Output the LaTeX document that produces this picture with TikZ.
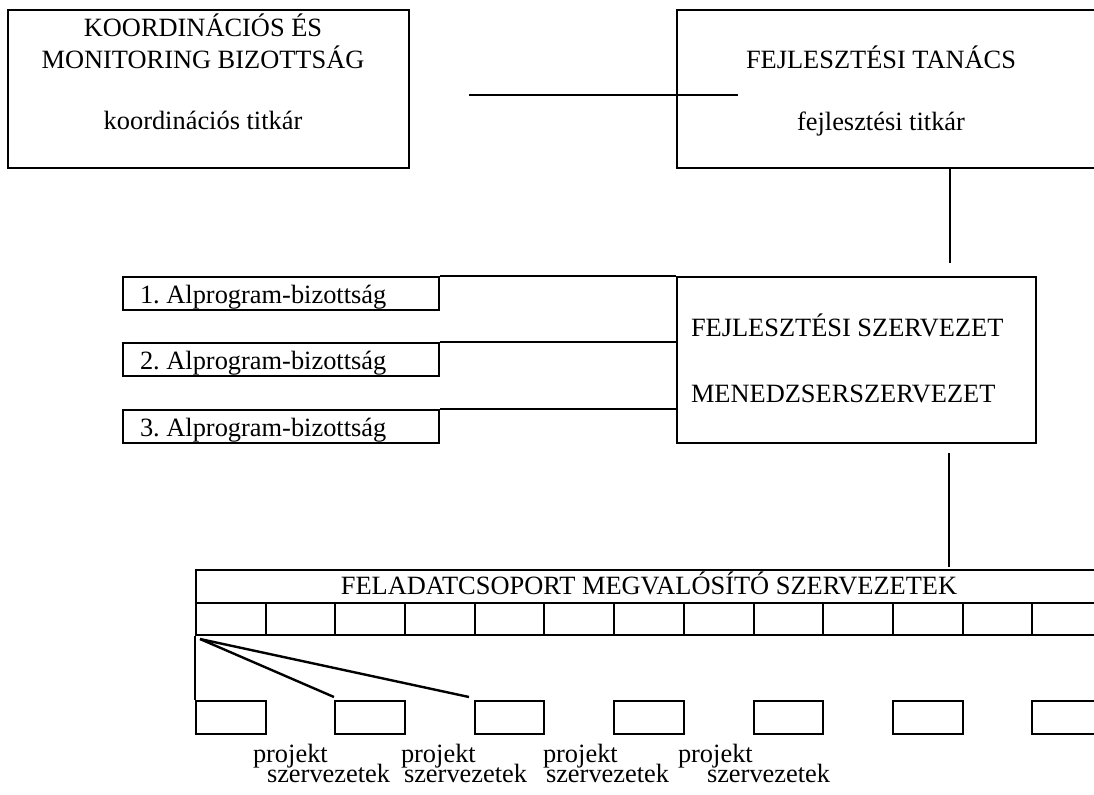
\documentclass[tikz,border=0pt]{standalone}
\usepackage{fontspec}
\setmainfont{Liberation Serif}
\newfontfamily\tnr{Liberation Serif}
\frenchspacing
\begin{document}
\begin{tikzpicture}[x=0.5pt,y=-0.5pt,line width=1pt,
  box/.style={draw,inner sep=0pt,rectangle},
  txt/.style={inner sep=0pt,font=\tnr\fontsize{13.2}{15}\selectfont},
  cell/.style={draw,inner sep=0pt,minimum width=34.845pt}]
\useasboundingbox (0,0) rectangle (1094,794);
\clip (0,0) rectangle (1094,794);
% top boxes
\node[box,minimum width=200.5pt,minimum height=79pt] (kmb) at (208.5,89) {};
\node[txt,anchor=base] (kmb1) at (203,36) {KOORDINÁCIÓS ÉS};
\node[txt,anchor=base] (kmb2) at (203,68) {MONITORING BIZOTTSÁG};
\node[txt,anchor=base] (kmb3) at (203,129) {koordinációs titkár};
\node[box,minimum width=216.5pt,minimum height=79pt] (ft) at (893.5,89) {};
\node[txt,anchor=base] (ft1) at (881,68) {FEJLESZTÉSI TANÁCS};
\node[txt,anchor=base] (ft2) at (881,130) {fejlesztési titkár};
\coordinate (h1) at (469,95);
\coordinate (h2) at (738,95);
\draw[line width=1.2pt] (h1) -- (h2);
% middle
\node[box,minimum width=179.5pt,minimum height=83pt] (fsz) at (856.5,360) {};
\node[txt,anchor=base west] (fsz1) at (690,336) {FEJLESZTÉSI SZERVEZET};
\node[txt,anchor=base west] (fsz2) at (690,402) {MENEDZSERSZERVEZET};
\coordinate (v1a) at (950,168);
\coordinate (v1b) at (950,263);
\draw (v1a) -- (v1b);
\node[box,minimum width=158pt,minimum height=16.5pt] (ap1) at (281,293.5) {};
\node[box,minimum width=158pt,minimum height=16.5pt] (ap2) at (281,359.5) {};
\node[box,minimum width=158pt,minimum height=16.5pt] (ap3) at (281,426.5) {};
\node[txt,anchor=base west] (ap1t) at (139,303) {1. Alprogram-bizottság};
\node[txt,anchor=base west] (ap2t) at (139,369) {2. Alprogram-bizottság};
\node[txt,anchor=base west] (ap3t) at (139,436) {3. Alprogram-bizottság};
\draw (ap1.north east) -- (ap1.north east -| fsz.west);
\draw (ap2.north east) -- (ap2.north east -| fsz.west);
\draw (ap3.north east) -- (ap3.north east -| fsz.west);
% bottom
\coordinate (v2a) at (949,453);
\coordinate (v2b) at (949,567);
\draw (v2a) -- (v2b);
\node[box,minimum width=453pt,minimum height=16.5pt] (fel) at (649,586.5) {};
\node[txt,anchor=base] (felt) at (649,594) {FELADATCSOPORT MEGVALÓSÍTÓ SZERVEZETEK};
\foreach \i in {0,...,12} {
  \node[cell,minimum height=16pt] (c\i) at ({196+69.69*\i+34.845},619) {};
}
\foreach \i in {0,2,...,12} {
  \node[cell,minimum height=16.5pt] (b\i) at ({196+69.69*\i+34.845},717.5) {};
}
\draw (c0.south west) -- (b0.north west);
\coordinate (d0) at (200,639);
\coordinate (d2) at (334,697);
\coordinate (d4) at (469,697);
\draw[line width=1.2pt] (d0) -- (d2);
\draw[line width=1.2pt] (d0) -- (d4);
\node[txt,anchor=base west] (p1) at (252,762) {projekt};
\node[txt,anchor=base west] (p2) at (400,762) {projekt};
\node[txt,anchor=base west] (p3) at (542,762) {projekt};
\node[txt,anchor=base west] (p4) at (677,762) {projekt};
\node[txt,anchor=base west] (s1) at (266,782) {szervezetek};
\node[txt,anchor=base west] (s2) at (403,782) {szervezetek};
\node[txt,anchor=base west] (s3) at (545,782) {szervezetek};
\node[txt,anchor=base west] (s4) at (706,782) {szervezetek};
\end{tikzpicture}
\end{document}
